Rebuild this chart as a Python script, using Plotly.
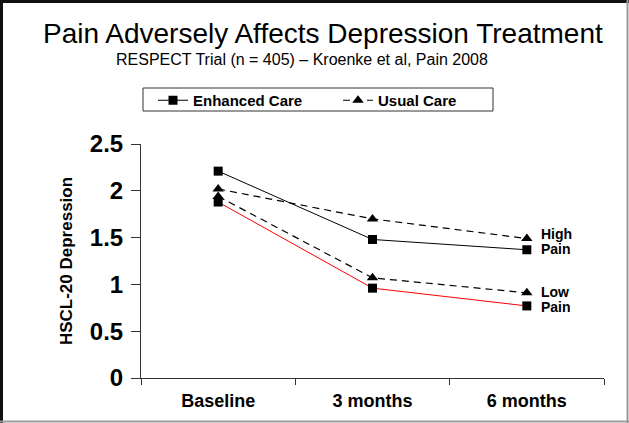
import plotly.graph_objects as go

# HSCL-20 depression scores by visit, RESPECT trial
visits = ["Baseline", "3 months", "6 months"]
enhanced_high_pain = [2.21, 1.48, 1.37]
usual_high_pain = [2.02, 1.70, 1.49]
usual_low_pain = [1.94, 1.07, 0.91]
enhanced_low_pain = [1.88, 0.96, 0.77]
y_ticks = [0, 0.5, 1, 1.5, 2, 2.5]
y_tick_text = ["0", "0.5", "1", "1.5", "2", "2.5"]

W, H = 629, 423
L, R, T, B = 141, 25, 144, 45
PW, PH = W - L - R, H - T - B

FONT = "Liberation Sans, Arial, sans-serif"


def px_x(px):
    return (px - L) / PW


def px_y(py):
    return (H - B - py) / PH


fig = go.Figure()

sq = dict(symbol="square", size=9, color="black")
tri = dict(symbol="triangle-up", size=10, color="black")
dash = "7px,5px"

fig.add_trace(go.Scatter(x=visits, y=enhanced_high_pain, mode="lines+markers",
                         name="<b>Enhanced Care</b>", line=dict(color="black", width=1),
                         marker=sq, showlegend=True))
fig.add_trace(go.Scatter(x=visits, y=usual_high_pain, mode="lines+markers",
                         name="<b>Usual Care</b>", line=dict(color="black", width=1.2, dash=dash),
                         marker=tri, showlegend=True))
fig.add_trace(go.Scatter(x=visits, y=usual_low_pain, mode="lines+markers",
                         name="Usual Care", line=dict(color="black", width=1.2, dash=dash),
                         marker=tri, showlegend=False))
fig.add_trace(go.Scatter(x=visits, y=enhanced_low_pain, mode="lines+markers",
                         name="Enhanced Care", line=dict(color="#ff0000", width=1),
                         marker=sq, showlegend=False))


def side_label(text, y):
    return dict(text=f"<b>{text}</b>", x=visits[2], y=y, xref="x", yref="y",
                showarrow=False, xanchor="left", yanchor="middle", xshift=12,
                font=dict(family=FONT, size=14, color="black"))


annotations = [
    dict(text="Pain Adversely Affects Depression Treatment", x=px_x(323), y=px_y(34),
         xref="paper", yref="paper", showarrow=False, xanchor="center", yanchor="middle",
         font=dict(family=FONT, size=28, color="black")),
    dict(text="RESPECT Trial (n = 405) – Kroenke et al, Pain 2008", x=px_x(302), y=px_y(60),
         xref="paper", yref="paper", showarrow=False, xanchor="center", yanchor="middle",
         font=dict(family=FONT, size=16, color="black")),
    side_label("High", 1.54),
    side_label("Pain", 1.38),
    side_label("Low", 0.92),
    side_label("Pain", 0.76),
]

shapes = [
    # outer frame: dark on the left/top, grey on the right/bottom
    dict(type="line", xref="paper", yref="paper", x0=px_x(1.5), x1=px_x(1.5),
         y0=px_y(0), y1=px_y(H), line=dict(color="#111111", width=3)),
    dict(type="line", xref="paper", yref="paper", x0=px_x(0), x1=px_x(W),
         y0=px_y(1.5), y1=px_y(1.5), line=dict(color="#111111", width=3)),
    dict(type="line", xref="paper", yref="paper", x0=px_x(627.5), x1=px_x(627.5),
         y0=px_y(0), y1=px_y(H), line=dict(color="#999999", width=2)),
    dict(type="line", xref="paper", yref="paper", x0=px_x(0), x1=px_x(W),
         y0=px_y(421.5), y1=px_y(421.5), line=dict(color="#999999", width=2)),
    # legend box
    dict(type="rect", xref="paper", yref="paper", x0=px_x(143), x1=px_x(493),
         y0=px_y(88), y1=px_y(111), line=dict(color="#333333", width=1)),
]

fig.update_layout(
    width=W, height=H,
    margin=dict(l=L, r=R, t=T, b=B, pad=0),
    paper_bgcolor="white", plot_bgcolor="white",
    font=dict(family=FONT, color="black"),
    annotations=annotations, shapes=shapes,
    legend=dict(orientation="h", x=px_x(153), y=px_y(84), xanchor="left", yanchor="top",
                borderwidth=0, bgcolor="rgba(0,0,0,0)",
                font=dict(family=FONT, size=15, color="black"),
                entrywidth=140, itemwidth=30, tracegroupgap=0),
    xaxis=dict(type="category", range=[-0.5, 2.5], showgrid=False, zeroline=False,
               showline=True, linecolor="#333333", linewidth=1,
               ticks="outside", tickson="boundaries", ticklen=6, tickcolor="#333333",
               ticklabelstandoff=6,
               tickfont=dict(family=FONT, size=18, color="black"),
               tickprefix="<b>", ticksuffix="</b>"),
    yaxis=dict(range=[0, 2.5], tickvals=y_ticks, ticktext=[f"<b>{t}</b>" for t in y_tick_text],
               showgrid=False, zeroline=False, showline=True, linecolor="#333333", linewidth=1,
               ticks="outside", ticklen=9, tickcolor="#333333", ticklabelstandoff=3,
               tickfont=dict(family=FONT, size=24, color="black"),
               title=dict(text="<b>HSCL-20 Depression</b>", standoff=12,
                          font=dict(family=FONT, size=17, color="black"))),
)

fig.write_html("out.html")
